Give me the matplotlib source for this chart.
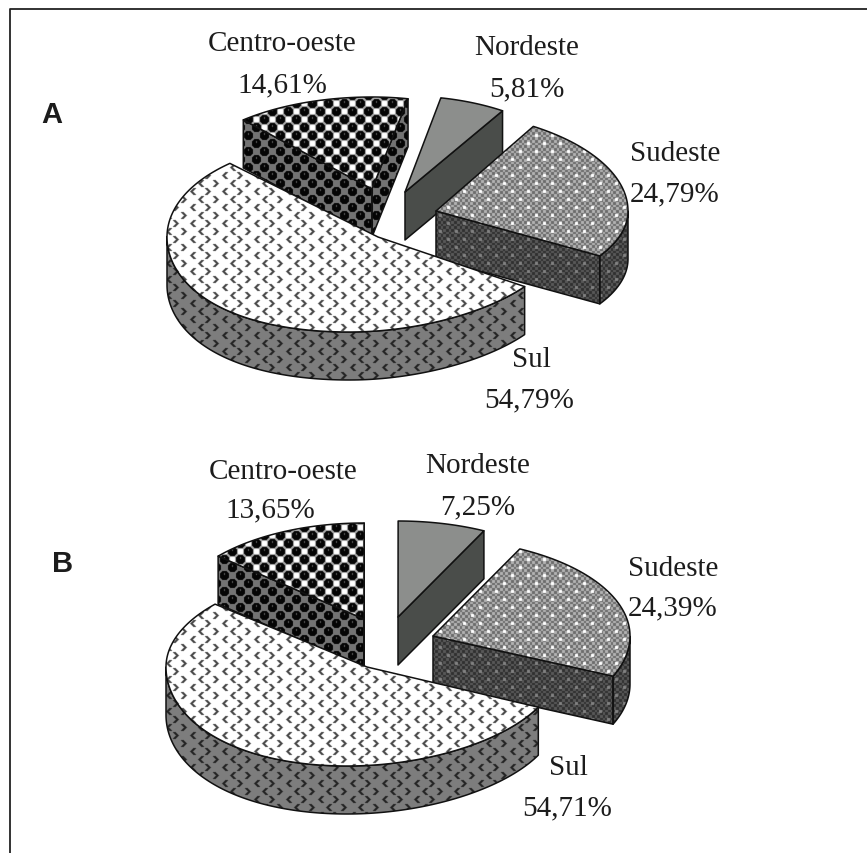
#!/usr/bin/env python3
# coding: utf-8

import numpy as np
import matplotlib
matplotlib.use('Agg')
import matplotlib.pyplot as plt
from matplotlib.patches import Polygon

W, H = 867, 854

REGIOES = ['Centro-oeste', 'Nordeste', 'Sudeste', 'Sul']
VALORES_A = [14.61, 5.81, 24.79, 54.79]
VALORES_B = [13.65, 7.25, 24.39, 54.71]

# layout of each slice: apex x, apex y, left, right, top, bottom radius,
# bend below the apex, bend above it
GEO_A = [(372, 190, 195, 184, 92, 92, 0, 0),
         (405, 193, 180, 183, 96, 96, 0, 0),
         (436, 212, 192, 192, 100, 86, 0, -0.07),
         (378, 238, 211, 181, 98, 95, -0.3, -0.16)]
GEO_B = [(364, 620, 193, 193, 96, 96, 0, 0),
         (398, 618, 195, 195, 96, 96, 0, 0),
         (433, 637, 197, 197, 97, 99, 0, 0),
         (367, 668, 201, 191, 96, 99, -0.2, 0)]
INICIO_A = -41.3
INICIO_B = -49.1
ALTURA = 48

# label centres, name then value
POS_A = [((282, 44), (282, 85)), ((527, 48), (527, 89)),
         ((675, 154), (675, 194)), ((531, 360), (529, 400))]
POS_B = [((283, 472), (270, 510)), ((478, 466), (478, 507)),
         ((673, 569), (673, 608)), ((568, 768), (567, 808))]


def suaviza(img):
    out = img * 0.6
    for eixo in (0, 1):
        for d in (-1, 1):
            out = out + np.roll(img, d, axis=eixo) * 0.1
    return out


yy, xx = np.mgrid[0:H, 0:W].astype(float)


def rede():
    # offsets to the nearest point of the staggered 16 x 8 lattice
    dx1 = (xx + 8) % 16 - 8
    dy1 = (yy + 8) % 16 - 8
    dx2 = xx % 16 - 8
    dy2 = yy % 16 - 8
    usa1 = np.hypot(dx1, dy1) < np.hypot(dx2, dy2)
    dx = np.where(usa1, dx1, dx2)
    dy = np.where(usa1, dy1, dy2)
    col = np.where(usa1, np.floor((xx + 8) / 16), np.floor(xx / 16))
    return dx, dy, col


DX, DY, COL = rede()
DIST = np.hypot(DX, DY)


def bolas(fundo, anel):
    img = np.full((H, W), float(fundo))
    img[DIST < 5.9] = anel
    img[DIST < 4.9] = 5
    img[np.hypot(DX, DY + 1.5) < 1.1] = 95
    return suaviza(img)


def divisas(fundo, cor):
    img = np.full((H, W), float(fundo))
    sinal = np.where(COL % 2 == 0, 1.0, -1.0)
    forma = np.abs(DX * sinal - (np.abs(DY) - 1.0)) < 1.01
    img[forma & (np.abs(DY) < 3.5)] = cor
    return suaviza(img)


def pontos(claro, escuro, ponto):
    chk = ((xx // 2.7) + (yy // 2.7)) % 2
    img = np.where(chk > 0, float(claro), float(escuro))
    img[DIST < 1.9] = ponto
    return suaviza(img)


TOPO = [bolas(255, 165), None, pontos(178, 108, 255), divisas(255, 70)]
LADO = [bolas(115, 120), None, pontos(88, 48, 130), divisas(125, 35)]
COR_TOPO = '#8c8e8c'
COR_LADO = '#4a4d4a'


def ponto_pie(geo, ang):
    ax0, ay0, esq, dir_, cima, baixo, k, k2 = geo
    s = np.sin(np.radians(ang))
    c = -np.cos(np.radians(ang))
    x = s * np.where(s > 0, dir_, esq)
    y = c * np.where(c > 0, baixo, cima)
    # quadratic so the outline stays smooth where it crosses the apex height
    x = x + k * np.maximum(y, 0) ** 2 / baixo + k2 * np.maximum(-y, 0) ** 2 / cima
    return np.column_stack([ax0 + x, ay0 + y])


def pinta(ax, pts, i, topo, z):
    p = Polygon(pts, closed=True, facecolor='none', edgecolor='#111111',
                linewidth=1.1, joinstyle='round', zorder=z + 0.5)
    if i == 1:
        fundo = Polygon(pts, closed=True, facecolor=COR_TOPO if topo else COR_LADO,
                        edgecolor='none', zorder=z)
        ax.add_patch(fundo)
    else:
        img = TOPO[i] if topo else LADO[i]
        clip = Polygon(pts, closed=True, transform=ax.transData)
        im = ax.imshow(img, cmap='gray', vmin=0, vmax=255, extent=(0, W, H, 0),
                       interpolation='nearest', zorder=z, aspect='auto')
        im.set_clip_path(clip)
    ax.add_patch(p)


def parede(pts):
    baixo = pts[::-1] + np.array([0, ALTURA])
    return np.vstack([pts, baixo])


def fatia(ax, geo, a0, a1, i, z):
    angs = np.linspace(a0, a1, 160)
    arco = ponto_pie(geo, angs)
    apice = np.array([[geo[0], geo[1]]], dtype=float)
    # only faces running right to left along the lower side can be seen
    if arco[0, 0] < apice[0, 0]:
        pinta(ax, parede(np.vstack([apice, arco[:1]])), i, False, z)
    if arco[-1, 0] > apice[0, 0]:
        pinta(ax, parede(np.vstack([arco[-1:], apice])), i, False, z)
    desce = np.diff(arco[:, 0]) < 0
    if desce.any():
        idx = np.where(desce)[0]
        pinta(ax, parede(arco[idx[0]:idx[-1] + 2]), i, False, z)
    pinta(ax, np.vstack([apice, arco]), i, True, z + 1)


def pizza(ax, valores, geos, inicio, posicoes):
    a0 = inicio
    for i, v in enumerate(valores):
        a1 = a0 + v * 3.6
        fatia(ax, geos[i], a0, a1, i, 2 + i * 2)
        a0 = a1
    for nome, v, (pn, pv) in zip(REGIOES, valores, posicoes):
        txt = f'{v:.2f}'.replace('.', ',') + '%'
        ax.text(pn[0], pn[1], nome, family='Liberation Serif', fontsize=21,
                ha='center', va='center', color='#1c1c1c', zorder=20)
        ax.text(pv[0], pv[1], txt, family='Liberation Serif', fontsize=21,
                ha='center', va='center', color='#1c1c1c', zorder=20)


fig = plt.figure(figsize=(W / 100, H / 100), dpi=100)
ax = fig.add_axes([0, 0, 1, 1])

pizza(ax, VALORES_A, GEO_A, INICIO_A, POS_A)
pizza(ax, VALORES_B, GEO_B, INICIO_B, POS_B)

ax.plot([W, 9.5, 9.5], [10, 10, H], color='#222222', linewidth=1.3, zorder=1)
ax.text(52, 115, 'A', family='Liberation Sans', weight='bold', fontsize=21,
        ha='center', va='center', color='#1c1c1c')
ax.text(63, 564, 'B', family='Liberation Sans', weight='bold', fontsize=21,
        ha='center', va='center', color='#1c1c1c')

ax.set_xlim(0, W)
ax.set_ylim(H, 0)
ax.axis('off')
fig.savefig('out.png', dpi=100)
